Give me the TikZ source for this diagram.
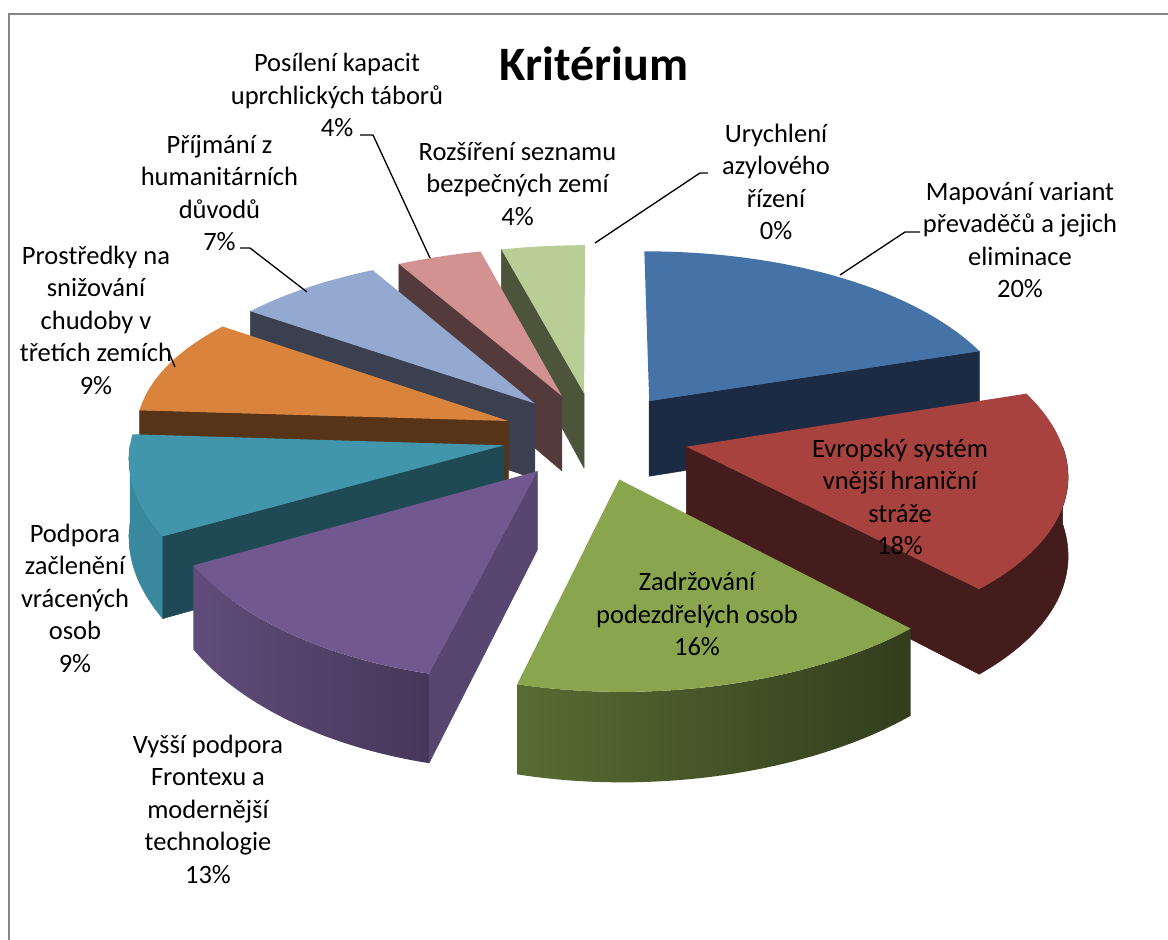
\documentclass[tikz,border=0pt]{standalone}
\usepackage{fontspec}
\setmainfont{Carlito}
\definecolor{frameC}{RGB}{134,134,134}
\definecolor{lgT}{RGB}{185,205,150}
\definecolor{lgS}{RGB}{76,84,58}
\definecolor{pkT}{RGB}{209,146,145}
\definecolor{pkS}{RGB}{84,58,58}
\definecolor{lbT}{RGB}{147,169,207}
\definecolor{lbS}{RGB}{58,64,80}
\definecolor{blT}{RGB}{69,114,167}
\definecolor{blS}{RGB}{28,43,68}
\definecolor{orT}{RGB}{217,131,61}
\definecolor{orS}{RGB}{87,52,24}
\definecolor{tlT}{RGB}{65,150,172}
\definecolor{tlO}{RGB}{58,136,157}
\definecolor{tlS}{RGB}{31,73,84}
\definecolor{rdT}{RGB}{168,66,63}
\definecolor{rdS}{RGB}{68,28,28}
\definecolor{puT}{RGB}{113,88,143}
\definecolor{puS}{RGB}{88,70,112}
\definecolor{puL}{RGB}{96,76,122}
\definecolor{puR}{RGB}{70,55,90}
\definecolor{grT}{RGB}{137,165,78}
\definecolor{grL}{RGB}{88,108,50}
\definecolor{grR}{RGB}{50,61,29}
% projection of a point (X,Y) of the unit pie plane, level Z (0 top, 1 bottom)
\newcommand\PX[2]{(595.5+373*(#1)/(1+(0.0975+0.03*(#1))*(#2)))}
\newcommand\PY[3]{(435.7-(175.5*(#2)-77*(#3))/(1+0.12*(#2)))}
\newcommand\setslice[2]{%
  \pgfmathsetmacro\aone{#1}%
  \pgfmathsetmacro\atwo{#2}%
  \pgfmathsetmacro\ex{0.25*cos((#1+#2)/2)}%
  \pgfmathsetmacro\ey{0.25*sin((#1+#2)/2)}}
\newcommand\rx[1]{\PX{\ex+cos(#1)}{\ey+sin(#1)}}
\newcommand\ry[2]{\PY{\ex+cos(#1)}{\ey+sin(#1)}{#2}}
\newcommand\topface[1]{\fill[#1] ({\PX{\ex}{\ey}},{\PY{\ex}{\ey}{0}}) -- plot[variable=\t,domain=\aone:\atwo,samples=50] ({\rx{\t}},{\ry{\t}{0}}) -- cycle;}
\newcommand\cutface[2]{\path[fill=#2, draw=#2, line width=0.5pt, line join=round] ({\PX{\ex}{\ey}},{\PY{\ex}{\ey}{0}}) -- ({\rx{#1}},{\ry{#1}{0}}) -- ({\rx{#1}},{\ry{#1}{1}}) -- ({\PX{\ex}{\ey}},{\PY{\ex}{\ey}{1}}) -- cycle;}
\newcommand\outerface[3]{\path[#3] plot[variable=\t,domain=#1:#2,samples=40] ({\rx{\t}},{\ry{\t}{0}}) -- plot[variable=\t,domain=#2:#1,samples=40] ({\rx{\t}},{\ry{\t}{1}}) -- cycle;}
\tikzset{
  lab/.style={font=\fontsize{26.5}{32.5}\selectfont, align=center, inner sep=0pt, text=black},
  leader/.style={draw=black, line width=1.3pt},
  solidside/.style={fill=#1, draw=#1, line width=0.5pt, line join=round},
}
\begin{document}
\begin{tikzpicture}[x=1pt,y=-1pt]
\useasboundingbox (0,0) rectangle (1168,940);
\fill[white] (0,0) rectangle (1168,940);
\draw[frameC, line width=2pt] (9,940) -- (9,14) -- (1168,14);

% light green: Rozšíření 4%
\setslice{104.4}{90}
\cutface{104.4}{lgS}
\topface{lgT}
% pink: Posílení 4%
\setslice{118.8}{104.4}
\cutface{118.8}{pkS}
\topface{pkT}
% light blue: Příjmání 7%
\setslice{144}{118.8}
\cutface{144}{lbS}
\topface{lbT}
% blue: Mapování 20%
\setslice{90}{18}
\cutface{18}{blS}
\topface{blT}
% orange: Prostředky 9%
\setslice{176.4}{144}
\cutface{176.4}{orS}
\topface{orT}
% teal: Podpora 9%
\setslice{-151.2}{-183.6}
\outerface{-151.2}{-180}{solidside=tlO}
\cutface{-151.2}{tlS}
\topface{tlT}
% red: Evropský 18%
\setslice{18}{-46.8}
\outerface{0}{-46.8}{solidside=rdS}
\cutface{-46.8}{rdS}
\topface{rdT}
% purple: Vyšší 13%
\setslice{-104.4}{-151.2}
\outerface{-104.4}{-151.2}{left color=puL,right color=puR}
\cutface{-104.4}{puS}
\topface{puT}
% green: Zadržování 16%
\setslice{-46.8}{-104.4}
\outerface{-46.8}{-104.4}{left color=grL,right color=grR}
\topface{grT}

% title
\node[font=\fontsize{48}{58}\selectfont\bfseries, anchor=base, inner sep=0pt] (title) at (594,80) {Kritérium};

% labels
\node[lab] (posileni) at (337,95) {Posílení kapacit\\uprchlických táborů\\4\%};
\node[lab] (prijmani) at (219.5,193) {Příjmání z\\humanitárních\\důvodů\\7\%};
\node[lab] (prostredky) at (96,320) {Prostředky na\\snižování\\chudoby v\\třetích zemích\\9\%};
\node[lab] (rozsireni) at (517.5,184) {Rozšíření seznamu\\bezpečných zemí\\4\%};
\node[lab] (urychleni) at (776,182) {Urychlení\\azylového\\řízení\\0\%};
\node[lab] (mapovani) at (1020,240) {Mapování variant\\převaděčů a jejich\\eliminace\\20\%};
\node[lab] (evropsky) at (900,497) {Evropský systém\\vnější hraniční\\stráže\\18\%};
\node[lab] (zadrzovani) at (697,614) {Zadržování\\podezdřelých osob\\16\%};
\node[lab] (podpora) at (75,598) {Podpora\\začlenění\\vrácených\\osob\\9\%};
\node[lab] (vyssi) at (208,809) {Vyšší podpora\\Frontexu a\\modernější\\technologie\\13\%};

% leader lines
\coordinate (posA) at (360,135); \coordinate (posB) at (373,135); \coordinate (posC) at (430,258);
\draw[leader] (posA) -- (posB) -- (posC);
\coordinate (priA) at (240,248); \coordinate (priB) at (250,248); \coordinate (priC) at (307,292);
\draw[leader] (priA) -- (priB) -- (priC);
\coordinate (proA) at (167,348); \coordinate (proB) at (175,367);
\draw[leader] (proA) -- (proB);
\coordinate (uryA) at (708,173); \coordinate (uryB) at (700,173); \coordinate (uryC) at (595,243);
\draw[leader] (uryA) -- (uryB) -- (uryC);
\coordinate (mapA) at (920,232); \coordinate (mapB) at (905,232); \coordinate (mapC) at (840,275);
\draw[leader] (mapA) -- (mapB) -- (mapC);
\end{tikzpicture}
\end{document}
